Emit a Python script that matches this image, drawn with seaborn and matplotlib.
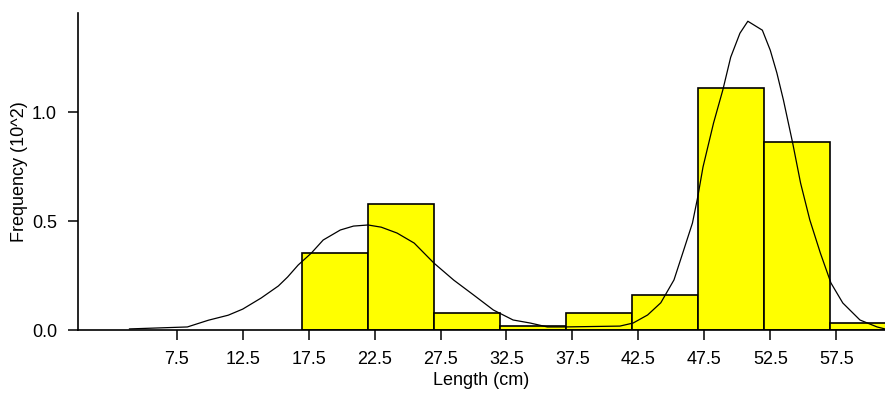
import matplotlib
matplotlib.use("Agg")
import matplotlib.pyplot as plt
import seaborn as sns
import numpy as np

# histogram bins (edges) and bar heights, in units of 10^2
bin_edges = [17, 22, 27, 32, 37, 42, 47, 52, 57, 62]
bar_heights = [0.353, 0.578, 0.078, 0.018, 0.08, 0.16, 1.11, 0.862, 0.032]

# fitted curve
curve_x = [3.9, 8.3, 9.9, 11.4, 12.5, 13.9, 15.2, 15.9, 16.7, 17.7, 18.6, 19.9,
           20.9, 22.0, 23.0, 24.2, 25.5, 27.0, 28.5, 30.0, 31.5, 33.0, 34.3,
           35.6, 36.8, 41.1, 42.1, 43.2, 44.2, 45.2, 45.9, 46.6, 47.0, 47.4,
           48.2, 48.9, 49.5, 50.2, 50.8, 51.9, 52.5, 53.0, 53.5, 54.2, 54.8,
           55.5, 56.3, 57.1, 58.0, 59.3, 60.6, 61.2]
curve_y = [0.005, 0.014, 0.045, 0.068, 0.096, 0.147, 0.202, 0.243, 0.298, 0.353,
           0.413, 0.459, 0.477, 0.482, 0.472, 0.445, 0.399, 0.307, 0.229, 0.161,
           0.092, 0.046, 0.032, 0.014, 0.014, 0.018, 0.032, 0.069, 0.125, 0.23,
           0.36, 0.491, 0.61, 0.748, 0.95, 1.101, 1.252, 1.362, 1.417, 1.376,
           1.284, 1.18, 1.055, 0.858, 0.674, 0.505, 0.353, 0.216, 0.124, 0.046,
           0.014, 0.005]

x_ticks = [7.5, 12.5, 17.5, 22.5, 27.5, 32.5, 37.5, 42.5, 47.5, 52.5, 57.5]
y_ticks = [0.0, 0.5, 1.0]

sns.set_style("white", {"text.color": "black", "axes.labelcolor": "black",
                        "xtick.color": "black", "ytick.color": "black",
                        "axes.edgecolor": "black"})
plt.rcParams["font.family"] = ["Liberation Sans", "DejaVu Sans"]

fig = plt.figure(figsize=(8.85, 4.12), dpi=100)
ax = fig.add_axes([0.088, 0.199, 0.912, 0.769])

centers = [(a + b) / 2 for a, b in zip(bin_edges[:-1], bin_edges[1:])]
sns.histplot(x=centers, weights=bar_heights, bins=bin_edges, ax=ax,
             color="#ffff00", alpha=1, edgecolor="black", linewidth=1.2)
sns.lineplot(x=curve_x, y=curve_y, ax=ax, color="black", linewidth=0.9,
             sort=False)

ax.set_xlim(0, 61.2)
ax.set_ylim(0, 1.454)
ax.set_xticks(x_ticks)
ax.set_xticklabels([f"{t:.1f}" for t in x_ticks])
ax.set_yticks(y_ticks)
ax.set_yticklabels([f"{t:.1f}" for t in y_ticks])
ax.tick_params(axis="both", direction="out", length=7, width=1.1,
               labelsize=13, pad=8, bottom=True, left=True, colors="black")

for side in ["top", "right"]:
    ax.spines[side].set_visible(False)
for side in ["left", "bottom"]:
    ax.spines[side].set_linewidth(1.2)
    ax.spines[side].set_color("black")

ax.set_xlabel("Length (cm)", fontsize=13, labelpad=3, color="black")
ax.set_ylabel("Frequency (10^2)", fontsize=13, labelpad=3, color="black")

fig.savefig("out.png", dpi=100)
